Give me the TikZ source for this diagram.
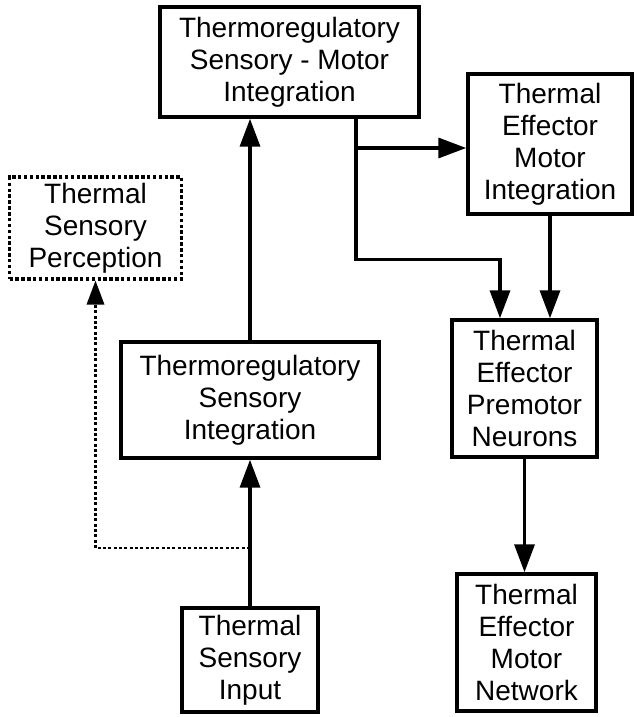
\documentclass[tikz,border=0pt]{standalone}
\usepackage{fontspec}
\setmainfont{Liberation Sans}
\usetikzlibrary{positioning, arrows.meta}

\begin{document}
\begin{tikzpicture}[
  x=0.75pt, y=-0.75pt,
  every node/.style={align=center, font=\fontsize{21}{24}\selectfont},
  box/.style={rectangle, draw=black, line width=2.6pt, inner sep=0pt},
  dashbox/.style={rectangle, draw=black, line width=2.4pt, dash pattern=on 2.6pt off 1.8pt, inner sep=0pt},
  conn/.style={line width=2.6pt, -{Triangle[length=21pt, width=15pt]}},
  dashconn/.style={line width=1.8pt, dash pattern=on 2.2pt off 1.8pt, -{Triangle[length=18pt, width=13pt]}}
]
\useasboundingbox (0,0) rectangle (638,717);

% Sensory side
\node[box, minimum width=259*0.75pt, minimum height=110*0.75pt] (tsmi) at (289.5,62) {Thermoregulatory\\Sensory - Motor\\Integration};
\node[dashbox, minimum width=172*0.75pt, minimum height=102*0.75pt] (tsp) at (95.5,228) {Thermal\\Sensory\\Perception};
\node[box, minimum width=258*0.75pt, minimum height=116*0.75pt] (tsi) at (250,400) {Thermoregulatory\\Sensory\\Integration};
\node[box, minimum width=136*0.75pt, minimum height=104*0.75pt] (tsin) at (250,660) {Thermal\\Sensory\\Input};

% Effector side
\node[box, minimum width=164*0.75pt, minimum height=140*0.75pt] (emi) at (550,144) {Thermal\\Effector\\Motor\\Integration};
\node[box, minimum width=145*0.75pt, minimum height=137*0.75pt] (tepn) at (524.5,388.5) {Thermal\\Effector\\Premotor\\Neurons};
\node[box, minimum width=139*0.75pt, minimum height=137*0.75pt] (temn) at (526.5,642.5) {Thermal\\Effector\\Motor\\Network};

% Junctions
\coordinate (fork) at (tsin.north |- 0,548);
\coordinate (tap) at (tsmi.south -| 356,0);
\coordinate (split) at (tap |- 0,148);
\coordinate (inL) at (tepn.north -| 500,0);

% Connectors
\draw[dashconn] (fork) -| (tsp.south);
\draw[conn] (tsin.north) -- (tsi.south);
\draw[conn] (tsi.north) -- (tsmi.south -| tsi.north);
\draw[conn] (tap) -- ++(0,141) -| (inL);
\draw[conn] (split) -- (split -| emi.west);
\draw[conn] (emi.south) -- (emi.south |- tepn.north);
\draw[conn] (tepn.south) -- (tepn.south |- temn.north);

\end{tikzpicture}
\end{document}
